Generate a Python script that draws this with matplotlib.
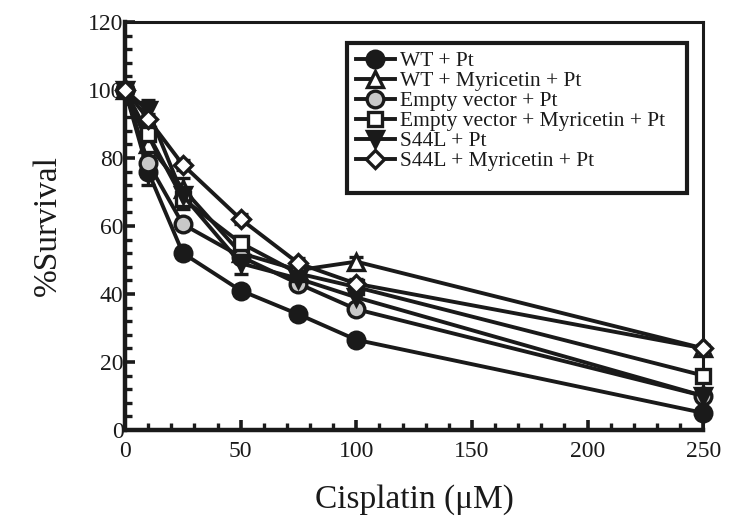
import matplotlib
matplotlib.use("Agg")
import matplotlib.pyplot as plt
from matplotlib.lines import Line2D
from matplotlib.patches import Rectangle
from matplotlib.ticker import MultipleLocator

plt.rcParams['font.family'] = ['Liberation Serif', 'DejaVu Serif']

# cisplatin dose (uM)
dose = [0, 10, 25, 50, 75, 100, 250]

wt = [100, 76, 52, 41, 34, 26.5, 5]
wt_myr = [100, 84, 71, 52, 47, 49.5, 24]
ev = [100, 78.5, 60.5, 51, 43, 35.5, 10]
ev_myr = [100, 87, 68, 55, 46, 42, 16]
s44l = [100, 94, 69, 49, 44.5, 39, 10]
s44l_myr = [100, 91.5, 78, 62, 49, 43, 24]

wt_err = [0, 4, 1, 1, 1, 1, 1]
wt_myr_err = [0, 2, 3, 2, 1.5, 1.5, 1]
ev_err = [0, 2, 1.5, 1.5, 1.5, 1, 1]
ev_myr_err = [0, 2, 3, 2, 2, 2, 1]
s44l_err = [0, 3, 2, 3, 2, 2, 1]
s44l_myr_err = [0, 1.5, 1.5, 1.5, 1.5, 1.5, 1]

labels = ["WT + Pt", "WT + Myricetin + Pt", "Empty vector + Pt",
          "Empty vector + Myricetin + Pt", "S44L + Pt", "S44L + Myricetin + Pt"]

fig = plt.figure(figsize=(7.31, 5.23), dpi=100)
ax = fig.add_axes([0.171, 0.178, 0.791, 0.780])

series = [
    (wt, wt_err, 'o', '#1a1a1a'),
    (wt_myr, wt_myr_err, '^', 'white'),
    (ev, ev_err, 'o', '#c8c8c8'),
    (ev_myr, ev_myr_err, 's', 'white'),
    (s44l, s44l_err, 'v', '#1a1a1a'),
    (s44l_myr, s44l_myr_err, 'D', 'white'),
]

handles = []
for (y, err, m, fc), lab in zip(series, labels):
    ms = 9.5 if m == 'D' else 12
    if m == 's':
        ms = 10.5
    style = dict(color='#1a1a1a', marker=m, markersize=ms, markerfacecolor=fc,
                 markeredgecolor='#1a1a1a', markeredgewidth=2.4, linewidth=2.8)
    ax.errorbar(dose, y, yerr=err, elinewidth=2.4, capsize=5, capthick=2.4,
                clip_on=False, zorder=3, **style)
    handles.append(Line2D([], [], **style))

ax.set_xlim(0, 250)
ax.set_ylim(0, 120)
ax.xaxis.set_major_locator(MultipleLocator(50))
ax.xaxis.set_minor_locator(MultipleLocator(10))
ax.yaxis.set_major_locator(MultipleLocator(20))
ax.yaxis.set_minor_locator(MultipleLocator(4))

ax.spines['left'].set_linewidth(3.2)
ax.spines['bottom'].set_linewidth(3.2)
ax.spines['top'].set_linewidth(2.2)
ax.spines['right'].set_linewidth(2.2)
for s in ax.spines.values():
    s.set_color('#1a1a1a')

ax.tick_params(which='both', direction='in', top=False, right=False,
               color='#1a1a1a', labelsize=17, labelcolor='#1a1a1a')
ax.tick_params(which='major', length=7, width=2.6, pad=1)
ax.tick_params(which='minor', length=5, width=2.4)
ax.tick_params(axis='x', pad=8)

ax.set_xlabel("Cisplatin (μM)", fontsize=24, labelpad=16, color='#1a1a1a')
ax.set_ylabel("%Survival", fontsize=24, labelpad=18, color='#1a1a1a')

# legend box
box = Rectangle((347 / 731, 1 - 193 / 523), 340 / 731, 150 / 523,
                transform=fig.transFigure, fill=False, edgecolor='#1a1a1a',
                linewidth=3, zorder=5)
fig.patches.append(box)
leg = fig.legend(handles, labels, loc='upper left',
                 bbox_to_anchor=(356 / 731, 1 - 51 / 523), frameon=False,
                 fontsize=15.5, handlelength=1.8, handletextpad=0.25,
                 labelspacing=0.0, borderpad=0, borderaxespad=0)
for t in leg.get_texts():
    t.set_color('#1a1a1a')

fig.savefig("out.png", dpi=100)
